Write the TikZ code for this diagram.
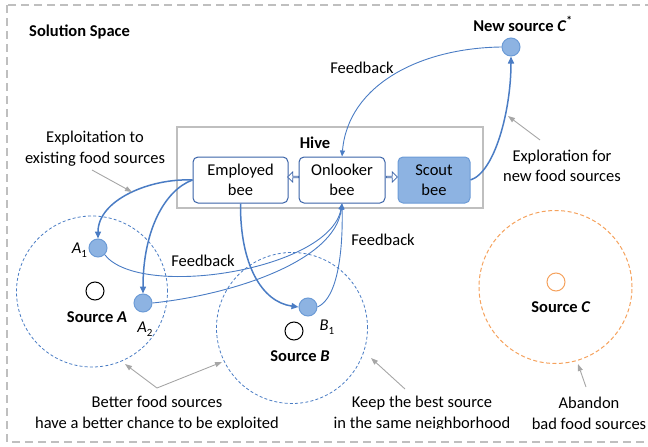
\documentclass[tikz,border=0pt]{standalone}
\usepackage{fontspec}
\setmainfont{Carlito}
\usetikzlibrary{arrows.meta,shapes.arrows}
\definecolor{bline}{HTML}{4A7CC4}
\definecolor{bdark}{HTML}{3A63A8}
\definecolor{bfill}{HTML}{8DB3E2}
\definecolor{bedge}{HTML}{6C9BD6}
\definecolor{graybox}{HTML}{BFBFBF}
\definecolor{graynote}{HTML}{A6A6A6}
\definecolor{orng}{HTML}{F5A25D}
\newcommand\idx[1]{\raisebox{-0.45ex}{\fontsize{11}{11}\selectfont #1}}
\begin{document}
\begin{tikzpicture}[x=1pt,y=-1pt,
  font=\fontsize{16.5}{20.5}\selectfont,
  beebox/.style={draw=bdark, line width=1pt, rounded corners=5pt, minimum width=#1,
    minimum height=46pt, align=center, inner sep=0pt, fill=white},
  dot/.style={circle, draw=bedge, fill=bfill, line width=1pt, minimum size=18pt, inner sep=0pt},
  ring/.style={circle, draw=black, line width=1pt, minimum size=18pt, inner sep=0pt},
  zone/.style={circle, draw=bline, dash pattern=on 3pt off 2.2pt, line width=0.8pt,
    minimum size=151pt, inner sep=0pt},
  txt/.style={inner sep=0pt, align=center},
  flow/.style={draw=bline, line width=1.5pt, -{Triangle[length=7pt,width=6pt]}},
  fb/.style={draw=bline, line width=0.9pt, -{Triangle[length=6pt,width=5pt]}},
  note/.style={draw=graynote, line width=0.9pt, -{Triangle[length=7pt,width=5pt]}},
  passarrow/.style={single arrow, draw=bdark, fill=white, line width=0.8pt,
    minimum height=11pt, minimum width=10pt, single arrow head extend=2.5pt,
    inner sep=0pt}]

\useasboundingbox (0,0) rectangle (648,447);

% solution space frame
\draw[graybox, line width=1.8pt, dash pattern=on 8pt off 5pt] (7,5) rectangle (660,442);
\node[txt, anchor=west, font=\fontsize{16.5}{20.5}\selectfont\bfseries] (space) at (29,32) {Solution Space};

% hive
\node[draw=graybox, line width=2.5pt, minimum width=306pt, minimum height=81pt, inner sep=0pt] (hive) at (330,167.5) {};
\node[txt, font=\fontsize{16.5}{20.5}\selectfont\bfseries] (hivelbl) at (315,143) {Hive};
\node[beebox=95pt] (emp) at (240.5,180) {Employed\\bee};
\node[beebox=86pt] (onl) at (342,180) {Onlooker\\bee};
\node[beebox=72pt, fill=bfill, draw=bedge] (scout) at (434,180) {Scout\\bee};
\node[passarrow, shape border rotate=180] (toemp) at (293.5,177) {};
\node[passarrow] (toscout) at (391.5,177) {};

% food source neighbourhoods
\node[zone] (zoneA) at (92,291.5) {};
\node[zone] (zoneB) at (292,328) {};
\node[zone, draw=orng, dash pattern=on 4pt off 2.5pt, line width=1pt, minimum size=153pt] (zoneC) at (555.5,287) {};

\node[ring] (srcA) at (95,291) {};
\node[ring] (srcB) at (294,331) {};
\node[ring, draw=orng] (srcC) at (556,282) {};
\node[txt, font=\fontsize{16.5}{20.5}\selectfont\bfseries] (lblA) at (97,317) {Source \textit{A}};
\node[txt, font=\fontsize{16.5}{20.5}\selectfont\bfseries] (lblB) at (300,356) {Source \textit{B}};
\node[txt, font=\fontsize{16.5}{20.5}\selectfont\bfseries] (lblC) at (561,307) {Source \textit{C}};

\node[dot] (a1) at (98,248) {};
\node[dot] (a2) at (143,303) {};
\node[dot] (b1) at (308,307) {};
\node[dot] (cs) at (511,47) {};
\node[txt] (la1) at (79.5,250) {\textit{A}\idx{1}};
\node[txt] (la2) at (145,329) {\textit{A}\idx{2}};
\node[txt] (lb1) at (327,327) {\textit{B}\idx{1}};
\node[txt, font=\fontsize{16.5}{20.5}\selectfont\bfseries] (lcs) at (523,24) {New source \textit{C}\textsuperscript{*}};

% bee flights
\draw[fb] (cs.west) .. controls (420,48) and (348,85) .. (onl.north);
\draw[flow] (scout.east) .. controls (495,172) and (511,110) .. (cs.south);
\draw[flow] (emp.west) .. controls (150,178) and (98,200) .. (a1.north);
\draw[flow] (emp.west) .. controls (165,190) and (143,230) .. (a2.north);
\draw[flow] (emp.south) .. controls (240,265) and (262,302) .. (b1.west);
\draw[fb] (a1.south east) .. controls (140,300) and (330,270) .. (onl.south);
\draw[fb] (a2.east) .. controls (230,295) and (335,262) .. (onl.south);
\draw[fb] (b1.east) .. controls (338,298) and (343,250) .. (onl.south);

\node[txt] (fb1) at (362,68) {Feedback};
\node[txt] (fb2) at (203,261) {Feedback};
\node[txt] (fb3) at (383,240) {Feedback};

% annotations
\node[txt] (exploit) at (95,148.5) {Exploitation to\\existing food sources};
\node[txt] (explore) at (562,166) {Exploration for\\new food sources};
\node[txt] (abandon) at (589,413.5) {Abandon\\bad food sources};
\begin{scope}
  \clip (0,0) rectangle (648,428);
  \node[txt] (better) at (157,413.5) {Better food sources\\have a better chance to be exploited};
  \node[txt] (keep) at (422,413.5) {Keep the best source\\in the same neighborhood};
\end{scope}

\coordinate (exploitTail) at (92,170);
\coordinate (exploitTip) at (132,192);
\coordinate (exploreTail) at (540,140);
\coordinate (exploreTip) at (508,116);
\coordinate (betterApex) at (157,388);
\coordinate (betterTipA) at (125,364);
\coordinate (betterTipB) at (222,362);
\coordinate (keepTail) at (405,389);
\coordinate (keepTip) at (371,358);
\coordinate (abandonTail) at (586,387);
\coordinate (abandonTip) at (578,364);
\draw[note] (exploitTail) -- (exploitTip);
\draw[note] (exploreTail) -- (exploreTip);
\draw[note] (betterApex) -- (betterTipA);
\draw[note] (betterApex) -- (betterTipB);
\draw[note] (keepTail) -- (keepTip);
\draw[note] (abandonTail) -- (abandonTip);
\end{tikzpicture}
\end{document}
